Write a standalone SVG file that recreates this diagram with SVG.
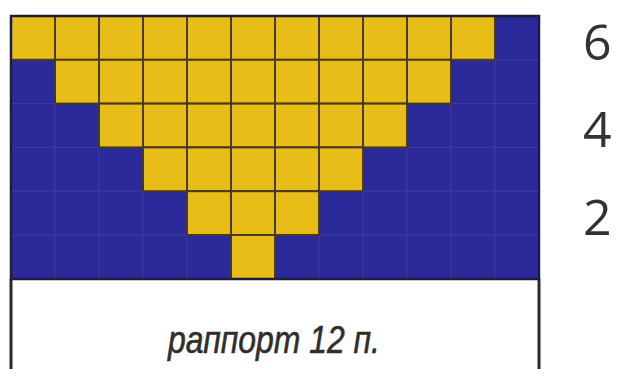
<svg xmlns="http://www.w3.org/2000/svg" width="618" height="376" viewBox="0 0 618 376">
<style>
.bg{fill:#2a2a9b}
.y{fill:#e8bd18;stroke:#4a3a1c;stroke-width:2}
.gb{stroke:#45349a;stroke-width:1.3;fill:none}
.bd{fill:none;stroke:#1e1e3a;stroke-width:2.5}
.side{stroke:#2a2a2a;stroke-width:3}
.num{font-family:"Open Sans","DejaVu Sans",sans-serif;font-size:50px;fill:#333}
.lab{font-family:"Liberation Sans",Arial,sans-serif;font-size:39px;font-style:italic;fill:#2e2e2e;stroke:#2e2e2e;stroke-width:0.6}
</style>
<rect fill="#fff" width="618" height="376"/>
<g id="chart">
<rect class="bg" x="11" y="16" width="528" height="263"/>
<g id="blue-grid" class="gb">
<path d="M55 16V279M99 16V279M143 16V279M187 16V279M231 16V279M275 16V279M319 16V279M363 16V279M407 16V279M451 16V279M495 16V279"/>
<path d="M11 59.8H539M11 103.6H539M11 147.4H539M11 191.2H539M11 235H539"/>
</g>
<g id="yellow-cells">
<rect class="y" x="11" y="16" width="44" height="43.8"/><rect class="y" x="55" y="16" width="44" height="43.8"/><rect class="y" x="99" y="16" width="44" height="43.8"/><rect class="y" x="143" y="16" width="44" height="43.8"/><rect class="y" x="187" y="16" width="44" height="43.8"/><rect class="y" x="231" y="16" width="44" height="43.8"/><rect class="y" x="275" y="16" width="44" height="43.8"/><rect class="y" x="319" y="16" width="44" height="43.8"/><rect class="y" x="363" y="16" width="44" height="43.8"/><rect class="y" x="407" y="16" width="44" height="43.8"/><rect class="y" x="451" y="16" width="44" height="43.8"/>
<rect class="y" x="55" y="59.8" width="44" height="43.8"/><rect class="y" x="99" y="59.8" width="44" height="43.8"/><rect class="y" x="143" y="59.8" width="44" height="43.8"/><rect class="y" x="187" y="59.8" width="44" height="43.8"/><rect class="y" x="231" y="59.8" width="44" height="43.8"/><rect class="y" x="275" y="59.8" width="44" height="43.8"/><rect class="y" x="319" y="59.8" width="44" height="43.8"/><rect class="y" x="363" y="59.8" width="44" height="43.8"/><rect class="y" x="407" y="59.8" width="44" height="43.8"/>
<rect class="y" x="99" y="103.6" width="44" height="43.8"/><rect class="y" x="143" y="103.6" width="44" height="43.8"/><rect class="y" x="187" y="103.6" width="44" height="43.8"/><rect class="y" x="231" y="103.6" width="44" height="43.8"/><rect class="y" x="275" y="103.6" width="44" height="43.8"/><rect class="y" x="319" y="103.6" width="44" height="43.8"/><rect class="y" x="363" y="103.6" width="44" height="43.8"/>
<rect class="y" x="143" y="147.4" width="44" height="43.8"/><rect class="y" x="187" y="147.4" width="44" height="43.8"/><rect class="y" x="231" y="147.4" width="44" height="43.8"/><rect class="y" x="275" y="147.4" width="44" height="43.8"/><rect class="y" x="319" y="147.4" width="44" height="43.8"/>
<rect class="y" x="187" y="191.2" width="44" height="43.8"/><rect class="y" x="231" y="191.2" width="44" height="43.8"/><rect class="y" x="275" y="191.2" width="44" height="43.8"/>
<rect class="y" x="231" y="235" width="44" height="44"/>
</g>
<rect class="bd" x="11" y="16" width="528" height="263"/>
</g>
<g id="repeat-bracket">
<line class="side" x1="11" y1="279" x2="11" y2="369"/>
<line class="side" x1="539" y1="279" x2="539" y2="369"/>
<text class="lab" x="168" y="353" textLength="212" lengthAdjust="spacingAndGlyphs">раппорт 12 п.</text>
</g>
<g id="row-numbers">
<text class="num" x="583" y="60">6</text>
<text class="num" x="583" y="147">4</text>
<text class="num" x="583" y="235">2</text>
</g>
</svg>
